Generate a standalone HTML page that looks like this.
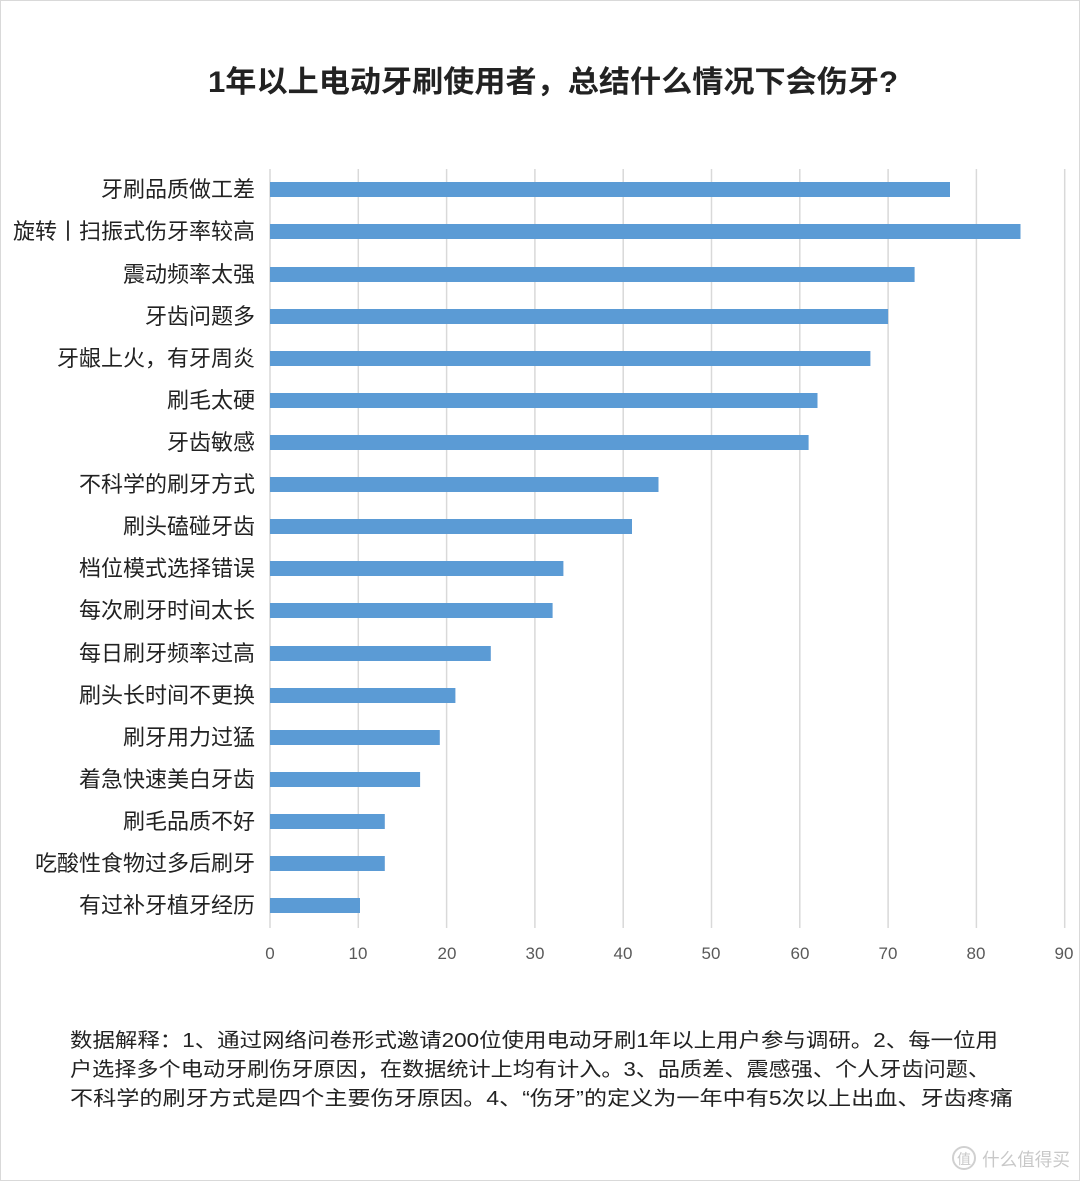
<!DOCTYPE html>
<html><head><meta charset="utf-8"><style>
html,body{margin:0;padding:0;background:#fff;}
svg{display:block;font-family:"Liberation Sans","Noto Sans CJK SC",sans-serif;}
</style></head><body>
<svg width="1080" height="1181" viewBox="0 0 1080 1181" xmlns="http://www.w3.org/2000/svg">
<rect x="0.5" y="0.5" width="1079" height="1180" fill="#fff" stroke="#d9d9d9"/>
<text x="208" y="92" font-size="30" font-weight="bold" fill="#222" textLength="690" lengthAdjust="spacingAndGlyphs">1年以上电动牙刷使用者，总结什么情况下会伤牙?</text>
<g stroke="#d9d9d9" stroke-width="1.5">
<line x1="270" y1="169" x2="270" y2="928"/><line x1="358.3" y1="169" x2="358.3" y2="928"/><line x1="446.6" y1="169" x2="446.6" y2="928"/><line x1="534.9" y1="169" x2="534.9" y2="928"/><line x1="623.2" y1="169" x2="623.2" y2="928"/><line x1="711.5" y1="169" x2="711.5" y2="928"/><line x1="799.8" y1="169" x2="799.8" y2="928"/><line x1="888.1" y1="169" x2="888.1" y2="928"/><line x1="976.4" y1="169" x2="976.4" y2="928"/><line x1="1064.7" y1="169" x2="1064.7" y2="928"/>
</g>
<g font-size="17" fill="#595959" text-anchor="middle">
<text x="270" y="959">0</text><text x="358" y="959">10</text><text x="447" y="959">20</text><text x="535" y="959">30</text><text x="623" y="959">40</text><text x="711" y="959">50</text><text x="800" y="959">60</text><text x="888" y="959">70</text><text x="976" y="959">80</text><text x="1064" y="959">90</text>
</g>
<g fill="#5b9bd5">
<rect x="270" y="182" width="680" height="15"/>
<rect x="270" y="224" width="750.5" height="15"/>
<rect x="270" y="267" width="644.6" height="15"/>
<rect x="270" y="309" width="618.1" height="15"/>
<rect x="270" y="351" width="600.4" height="15"/>
<rect x="270" y="393" width="547.5" height="15"/>
<rect x="270" y="435" width="538.6" height="15"/>
<rect x="270" y="477" width="388.5" height="15"/>
<rect x="270" y="519" width="362" height="15"/>
<rect x="270" y="561" width="293.4" height="15"/>
<rect x="270" y="603" width="282.6" height="15"/>
<rect x="270" y="646" width="220.8" height="15"/>
<rect x="270" y="688" width="185.4" height="15"/>
<rect x="270" y="730" width="169.8" height="15"/>
<rect x="270" y="772" width="150.1" height="15"/>
<rect x="270" y="814" width="114.8" height="15"/>
<rect x="270" y="856" width="114.8" height="15"/>
<rect x="270" y="898" width="90" height="15"/>
</g>
<g font-size="22" fill="#222" text-anchor="end">
<text x="255" y="197">牙刷品质做工差</text>
<text x="255" y="239">旋转丨扫振式伤牙率较高</text>
<text x="255" y="282">震动频率太强</text>
<text x="255" y="324">牙齿问题多</text>
<text x="255" y="366">牙龈上火，有牙周炎</text>
<text x="255" y="408">刷毛太硬</text>
<text x="255" y="450">牙齿敏感</text>
<text x="255" y="492">不科学的刷牙方式</text>
<text x="255" y="534">刷头磕碰牙齿</text>
<text x="255" y="576">档位模式选择错误</text>
<text x="255" y="618">每次刷牙时间太长</text>
<text x="255" y="661">每日刷牙频率过高</text>
<text x="255" y="703">刷头长时间不更换</text>
<text x="255" y="745">刷牙用力过猛</text>
<text x="255" y="787">着急快速美白牙齿</text>
<text x="255" y="829">刷毛品质不好</text>
<text x="255" y="871">吃酸性食物过多后刷牙</text>
<text x="255" y="913">有过补牙植牙经历</text>
</g>
<g font-size="20" fill="#222">
<text x="70" y="1047" textLength="928" lengthAdjust="spacingAndGlyphs">数据解释：1、通过网络问卷形式邀请200位使用电动牙刷1年以上用户参与调研。2、每一位用</text>
<text x="70" y="1076" textLength="920" lengthAdjust="spacingAndGlyphs">户选择多个电动牙刷伤牙原因，在数据统计上均有计入。3、品质差、震感强、个人牙齿问题、</text>
<text x="70" y="1105" textLength="943" lengthAdjust="spacingAndGlyphs">不科学的刷牙方式是四个主要伤牙原因。4、“伤牙”的定义为一年中有5次以上出血、牙齿疼痛</text>
</g>
<circle cx="964" cy="1158" r="11" fill="none" stroke="#d0d0d0" stroke-width="2"/>
<text x="964" y="1164" font-size="14" fill="#c8c8c8" text-anchor="middle">值</text>
<text x="982" y="1166" font-size="18" fill="#c8c8c8" textLength="88" lengthAdjust="spacingAndGlyphs">什么值得买</text>
</svg>
</body></html>
